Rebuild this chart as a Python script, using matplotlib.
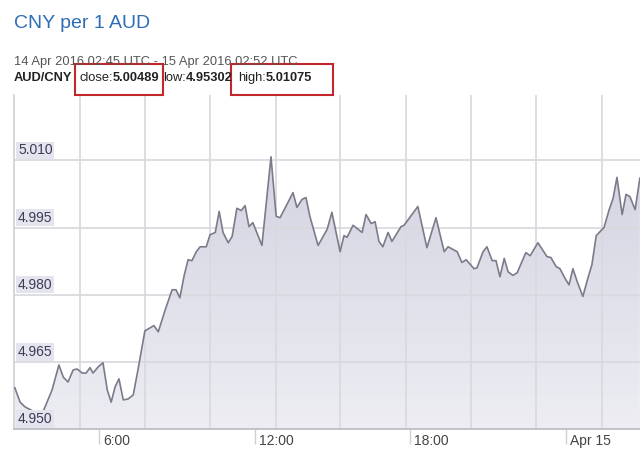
import numpy as np
import pandas as pd
import matplotlib
matplotlib.use("Agg")
import matplotlib.pyplot as plt
import matplotlib.dates as mdates
from matplotlib.colors import LinearSegmentedColormap
from matplotlib.patches import Rectangle
from matplotlib.transforms import ScaledTranslation, blended_transform_factory, IdentityTransform

plt.rcParams['font.family'] = ['Liberation Sans', 'DejaVu Sans']

# --- data ------------------------------------------------------------------
title = "CNY per 1 AUD"
period = "14 Apr 2016 02:45 UTC - 15 Apr 2016 02:52 UTC"
pair = "AUD/CNY"
close_val = "5.00489"
low_val = "4.95302"
high_val = "5.01075"

times = [
    "04-14 02:45", "04-14 02:57", "04-14 03:09", "04-14 03:27", "04-14 03:39",
    "04-14 03:50", "04-14 04:11", "04-14 04:27", "04-14 04:37", "04-14 04:48",
    "04-14 05:00", "04-14 05:09", "04-14 05:21", "04-14 05:30", "04-14 05:39",
    "04-14 05:46", "04-14 05:58", "04-14 06:09", "04-14 06:19", "04-14 06:28",
    "04-14 06:37", "04-14 06:46", "04-14 06:56", "04-14 07:07", "04-14 07:19",
    "04-14 07:30", "04-14 07:46", "04-14 07:58", "04-14 08:07", "04-14 08:17",
    "04-14 08:33", "04-14 08:49", "04-14 08:58", "04-14 09:07", "04-14 09:17",
    "04-14 09:26", "04-14 09:35", "04-14 09:45", "04-14 09:54", "04-14 10:08",
    "04-14 10:17", "04-14 10:29", "04-14 10:38", "04-14 10:47", "04-14 10:59",
    "04-14 11:08", "04-14 11:19", "04-14 11:29", "04-14 11:38", "04-14 11:47",
    "04-14 11:56", "04-14 12:17", "04-14 12:38", "04-14 12:50", "04-14 12:59",
    "04-14 13:29", "04-14 13:38", "04-14 13:50", "04-14 13:59", "04-14 14:08",
    "04-14 14:27", "04-14 14:48", "04-14 14:59", "04-14 15:18", "04-14 15:27",
    "04-14 15:34", "04-14 15:48", "04-14 16:09", "04-14 16:18", "04-14 16:30",
    "04-14 16:39", "04-14 16:48", "04-14 16:57", "04-14 17:09", "04-14 17:18",
    "04-14 17:39", "04-14 17:46", "04-14 18:18", "04-14 18:39", "04-14 19:00",
    "04-14 19:19", "04-14 19:28", "04-14 19:49", "04-14 20:00", "04-14 20:10",
    "04-14 20:28", "04-14 20:35", "04-14 20:49", "04-14 20:58", "04-14 21:10",
    "04-14 21:19", "04-14 21:28", "04-14 21:38", "04-14 21:47", "04-14 21:58",
    "04-14 22:08", "04-14 22:28", "04-14 22:38", "04-14 22:56", "04-14 23:17",
    "04-14 23:26", "04-14 23:38", "04-14 23:47", "04-14 23:59", "04-15 00:08",
    "04-15 00:17", "04-15 00:27", "04-15 00:40", "04-15 00:52", "04-15 01:01",
    "04-15 01:11", "04-15 01:20", "04-15 01:29", "04-15 01:41", "04-15 01:50",
    "04-15 01:59", "04-15 02:11", "04-15 02:20", "04-15 02:29", "04-15 02:41",
    "04-15 02:52",
]
rates = [
    4.9592, 4.9560, 4.9549, 4.9540, 4.9530,
    4.9538, 4.9587, 4.9643, 4.9616, 4.9605,
    4.9632, 4.9634, 4.9625, 4.9625, 4.9637,
    4.9625, 4.9639, 4.9648, 4.9587, 4.9560,
    4.9594, 4.9612, 4.9565, 4.9567, 4.9576,
    4.9632, 4.9719, 4.9726, 4.9731, 4.9717,
    4.9766, 4.9811, 4.9811, 4.9793, 4.9843,
    4.9878, 4.9876, 4.9896, 4.9907, 4.9907,
    4.9934, 4.9939, 4.9986, 4.9939, 4.9916,
    4.9930, 4.9993, 4.9988, 4.9999, 4.9952,
    4.9961, 4.9910, 5.0108, 4.9975, 4.9972,
    5.0028, 4.9995, 5.0013, 5.0017, 4.9975,
    4.9910, 4.9946, 4.9984, 4.9896, 4.9932,
    4.9928, 4.9955, 4.9939, 4.9979, 4.9959,
    4.9963, 4.9919, 4.9907, 4.9939, 4.9919,
    4.9952, 4.9955, 4.9997, 4.9905, 4.9972,
    4.9896, 4.9907, 4.9896, 4.9872, 4.9878,
    4.9858, 4.9860, 4.9896, 4.9907, 4.9876,
    4.9876, 4.9840, 4.9881, 4.9851, 4.9843,
    4.9849, 4.9894, 4.9887, 4.9916, 4.9885,
    4.9883, 4.9863, 4.9858, 4.9836, 4.9822,
    4.9858, 4.9829, 4.9796, 4.9838, 4.9867,
    4.9932, 4.9941, 4.9950, 4.9990, 5.0015,
    5.0062, 4.9979, 5.0024, 5.0019, 4.9990,
    5.0060,
]

ytick_vals = [4.950, 4.965, 4.980, 4.995, 5.010]
xtick_times = ["04-14 06:00", "04-14 12:00", "04-14 18:00", "04-15 00:00"]
xtick_labels = ["6:00", "12:00", "18:00", "Apr 15"]


def to_num(strs):
    return mdates.date2num(pd.to_datetime(["2016-" + s for s in strs]))


# --- figure -----------------------------------------------------------------
W, H = 640, 455
fig = plt.figure(figsize=(W / 100, H / 100), dpi=100)
ax = fig.add_axes([14 / W, 1 - 429 / H, 626 / W, 334 / H])

x = to_num(times)
y = np.array(rates)
x0, x1 = to_num(["04-14 02:43", "04-15 02:52"])
x1 += 20 / 86400
ymin, ymax = 4.950, 5.0246
ax.set_xlim(x0, x1)
ax.set_ylim(ymin, ymax)

# gradient fill under the line
poly = ax.fill_between(x, y, ymin - 0.01, facecolor='none', edgecolor='none')
cmap = LinearSegmentedColormap.from_list('fill', ['#ededf3', '#cecede'])
grad = np.linspace(1, 0, 256).reshape(-1, 1)
im = ax.imshow(grad, cmap=cmap, aspect='auto', extent=[x0, x1, ymin, ymax],
               zorder=1, interpolation='bilinear')
im.set_clip_path(poly.get_paths()[0], transform=ax.transData)

# grid (vertical lines are not aligned with the time ticks in the original)
vgrid = to_num(["04-14 05:16", "04-14 07:46", "04-14 10:17", "04-14 12:50",
                "04-14 15:18", "04-14 17:51", "04-14 20:21", "04-14 22:52",
                "04-15 01:24"])
for gx in vgrid:
    ax.axvline(gx, color='#d8d8dd', lw=1.2, zorder=1.5)
for gy in ytick_vals[1:]:
    ax.axhline(gy, color='#d8d8dd', lw=1.2, zorder=1.5)

ax.plot(x, y, color='#7b7b8a', lw=1.2, zorder=3)

# spines
for s in ('top', 'right'):
    ax.spines[s].set_visible(False)
ax.spines['left'].set_color('#cfcfd4')
ax.spines['bottom'].set_color('#b9b9c0')
ax.spines['left'].set_linewidth(1.2)
ax.spines['bottom'].set_linewidth(1.2)

# y labels sit inside the plot, above each grid line
ax.set_yticks([])
ytr = blended_transform_factory(ax.transAxes, ax.transData) + \
    ScaledTranslation(0, 3 / 100, fig.dpi_scale_trans)
for v in ytick_vals:
    ax.text(0.0064, v, f"{v:.3f}", transform=ytr, ha='left', va='bottom',
            fontsize=10, color='#3c3c55', zorder=4,
            bbox=dict(boxstyle='square,pad=0.12', fc='#e4e4ee', ec='none'))

# x ticks: long marks, labels to the right of the mark
ax.set_xticks(to_num(xtick_times), xtick_labels)
ax.tick_params(axis='x', length=11, width=1, color='#d0d0d4', pad=-7.5,
               labelsize=10, labelcolor='#444444')
shift = ScaledTranslation(4 / 100, 0, fig.dpi_scale_trans)
for lab in ax.get_xticklabels():
    lab.set_horizontalalignment('left')
    lab.set_transform(lab.get_transform() + shift)

# --- header -----------------------------------------------------------------
fig.text(14 / W, 1 - 23 / H, title, fontsize=14, color='#2d6db4', va='center')
fig.text(14 / W, 1 - 62 / H, period, fontsize=9.3, color='#555555', va='center')

r = fig.canvas.get_renderer()
pieces = [(pair, 'bold', 7), ("close:", 'normal', 0), (close_val, 'bold', 3),
          ("low:", 'normal', 0), (low_val, 'bold', 6),
          ("high:", 'normal', 0), (high_val, 'bold', 0)]
cx = 14
extents = []
for txt, weight, gap in pieces:
    t = fig.text(cx / W, 1 - 78 / H, txt, fontsize=9.3, fontweight=weight,
                 color='#222222', va='center')
    bb = t.get_window_extent(renderer=r)
    extents.append((bb.x0, bb.x1))
    cx = bb.x1 + gap

red = '#c3262b'
for (i, j, lpad, rpad) in [(1, 2, 5, 3), (5, 6, 7, 21)]:
    bx0 = extents[i][0] - lpad
    bx1 = extents[j][1] + rpad
    fig.add_artist(Rectangle((bx0, H - 95), bx1 - bx0, 31, fill=False,
                             ec=red, lw=1.5, transform=IdentityTransform()))

fig.savefig("out.png", dpi=100)
